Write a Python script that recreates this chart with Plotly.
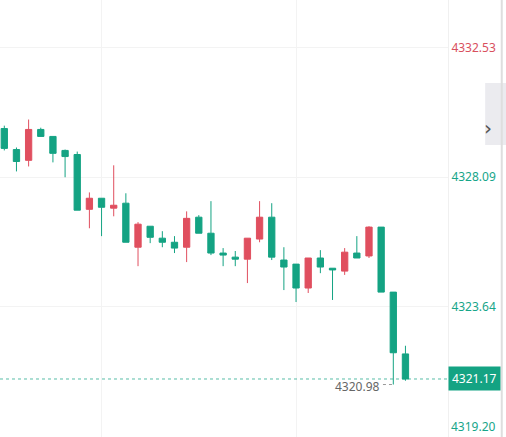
import plotly.graph_objects as go

# candle index (oldest -> newest)
bars = list(range(34))
opens = [4329.76, 4329.04, 4328.67, 4329.73, 4329.49, 4329.01, 4328.87, 4326.99, 4327.37, 4327.03,
         4327.20, 4325.69, 4326.41, 4326.00, 4325.86, 4325.69, 4326.72, 4326.17, 4325.49, 4325.35,
         4325.28, 4325.97, 4326.72, 4325.25, 4325.11, 4324.29, 4325.32, 4324.97, 4324.87, 4325.49,
         4325.39, 4326.38, 4324.15, 4322.03]
highs = [4329.86, 4329.11, 4330.07, 4329.79, 4329.49, 4329.04, 4328.97, 4327.57, 4327.37, 4328.50,
         4327.54, 4326.55, 4326.41, 4326.24, 4326.07, 4326.92, 4326.79, 4327.27, 4325.66, 4325.56,
         4326.00, 4327.27, 4327.20, 4325.69, 4325.11, 4325.32, 4325.59, 4324.97, 4325.66, 4326.07,
         4326.41, 4326.38, 4324.15, 4322.31]
lows = [4329.01, 4328.29, 4328.46, 4329.49, 4328.60, 4328.09, 4326.96, 4326.34, 4326.07, 4326.75,
        4325.86, 4325.04, 4325.83, 4325.69, 4325.49, 4325.18, 4326.17, 4325.42, 4325.04, 4325.04,
        4324.46, 4325.86, 4325.25, 4324.22, 4323.81, 4324.12, 4324.80, 4323.88, 4324.74, 4325.32,
        4325.32, 4324.15, 4320.98, 4321.11]
closes = [4329.08, 4328.63, 4329.73, 4329.49, 4328.91, 4328.80, 4326.96, 4327.37, 4327.06, 4327.13,
          4325.86, 4326.48, 4326.03, 4325.86, 4325.66, 4326.68, 4326.17, 4325.49, 4325.42, 4325.28,
          4326.00, 4326.72, 4325.35, 4325.01, 4324.29, 4325.32, 4325.01, 4324.91, 4325.52, 4325.32,
          4326.38, 4324.15, 4322.07, 4321.17]

price_ticks = [4319.20, 4323.64, 4328.09, 4332.53]
tick_labels = ['4319.20', '4323.64', '4328.09', '4332.53']
tick_colors = ['#17a589', '#17a589', '#17a589', '#d9505e']

last_price = 4321.17
low_mark = 4320.98
low_bar = 32

UP = '#e04f5f'
DOWN = '#14a383'

fig = go.Figure()
fig.add_trace(go.Candlestick(
    x = bars, open = opens, high = highs, low = lows, close = closes,
    increasing = dict(line = dict(color = UP, width = 1), fillcolor = UP),
    decreasing = dict(line = dict(color = DOWN, width = 1), fillcolor = DOWN),
    whiskerwidth = 0, hoverinfo = 'skip', showlegend = False))

# last price line + tag
fig.add_hline(y = last_price, line_dash = 'dot', line_color = DOWN, line_width = 1, opacity = 0.7)
fig.add_annotation(text = f'{last_price:.2f}', x = 1, xref = 'paper', y = last_price, yref = 'y',
                   xanchor = 'left', yanchor = 'middle', showarrow = False, bgcolor = DOWN,
                   borderpad = 3, font = dict(color = 'white', size = 12, family = 'Noto Sans'))

# bottom price label is pushed up so it stays inside the pane
fig.add_annotation(text = tick_labels[0], x = 1, xref = 'paper', y = price_ticks[0], yref = 'y',
                   xanchor = 'left', yanchor = 'middle', yshift = 10, xshift = 1, showarrow = False,
                   font = dict(color = tick_colors[0], size = 12, family = 'Noto Sans'))

# session low marker
fig.add_shape(type = 'line', x0 = low_bar - 0.85, x1 = low_bar - 0.05, y0 = low_mark, y1 = low_mark,
              line = dict(color = '#999999', width = 1, dash = 'dot'))
fig.add_annotation(text = f'{low_mark:.2f}', x = low_bar - 0.9, y = low_mark, xanchor = 'right',
                   yanchor = 'middle', yshift = -2, showarrow = False,
                   font = dict(color = '#666666', size = 12, family = 'Noto Sans'))

# side collapse button
fig.add_shape(type = 'rect', xref = 'paper', yref = 'paper', x0 = 1.083, x1 = 1.135, y0 = 0.668, y1 = 0.81,
              fillcolor = '#ebebef', line = dict(width = 0), layer = 'above')
fig.add_annotation(text = '›', xref = 'paper', yref = 'paper', x = 1.102, y = 0.74, showarrow = False,
                   font = dict(color = '#555555', size = 20, family = 'DejaVu Sans'))
# panel separator
fig.add_shape(type = 'line', xref = 'paper', yref = 'paper', x0 = 1.12, x1 = 1.12, y0 = 0, y1 = 1,
              line = dict(color = '#dedede', width = 2))

ticktext = [''] + [f"<span style='color:{c}'>{t}</span>" for t, c in zip(tick_labels[1:], tick_colors[1:])]

fig.update_layout(
    width = 506, height = 437,
    margin = dict(l = 0, r = 58, t = 0, b = 0, autoexpand = False),
    paper_bgcolor = 'white', plot_bgcolor = 'white',
    font = dict(family = 'Noto Sans', size = 12),
    xaxis = dict(range = [-0.354, 36.5], rangeslider = dict(visible = False), tickvals = [8, 24],
                 showticklabels = False, showgrid = True, gridcolor = '#f3f3f3', zeroline = False,
                 showline = False, ticks = '', automargin = False),
    yaxis = dict(side = 'right', range = [4319.18, 4334.17], tickvals = price_ticks, ticktext = ticktext,
                 showgrid = True, gridcolor = '#f3f3f3', zeroline = False, ticks = '',
                 showline = True, linecolor = '#f0f0f0', ticklabelstandoff = 0,
                 ticklabeloverflow = 'allow', automargin = False),
    boxgap = 0.26,
)

fig.write_html("out.html", config = {'displayModeBar': False},
               post_script = "document.body.style.margin='0';document.body.style.overflow='hidden';")
